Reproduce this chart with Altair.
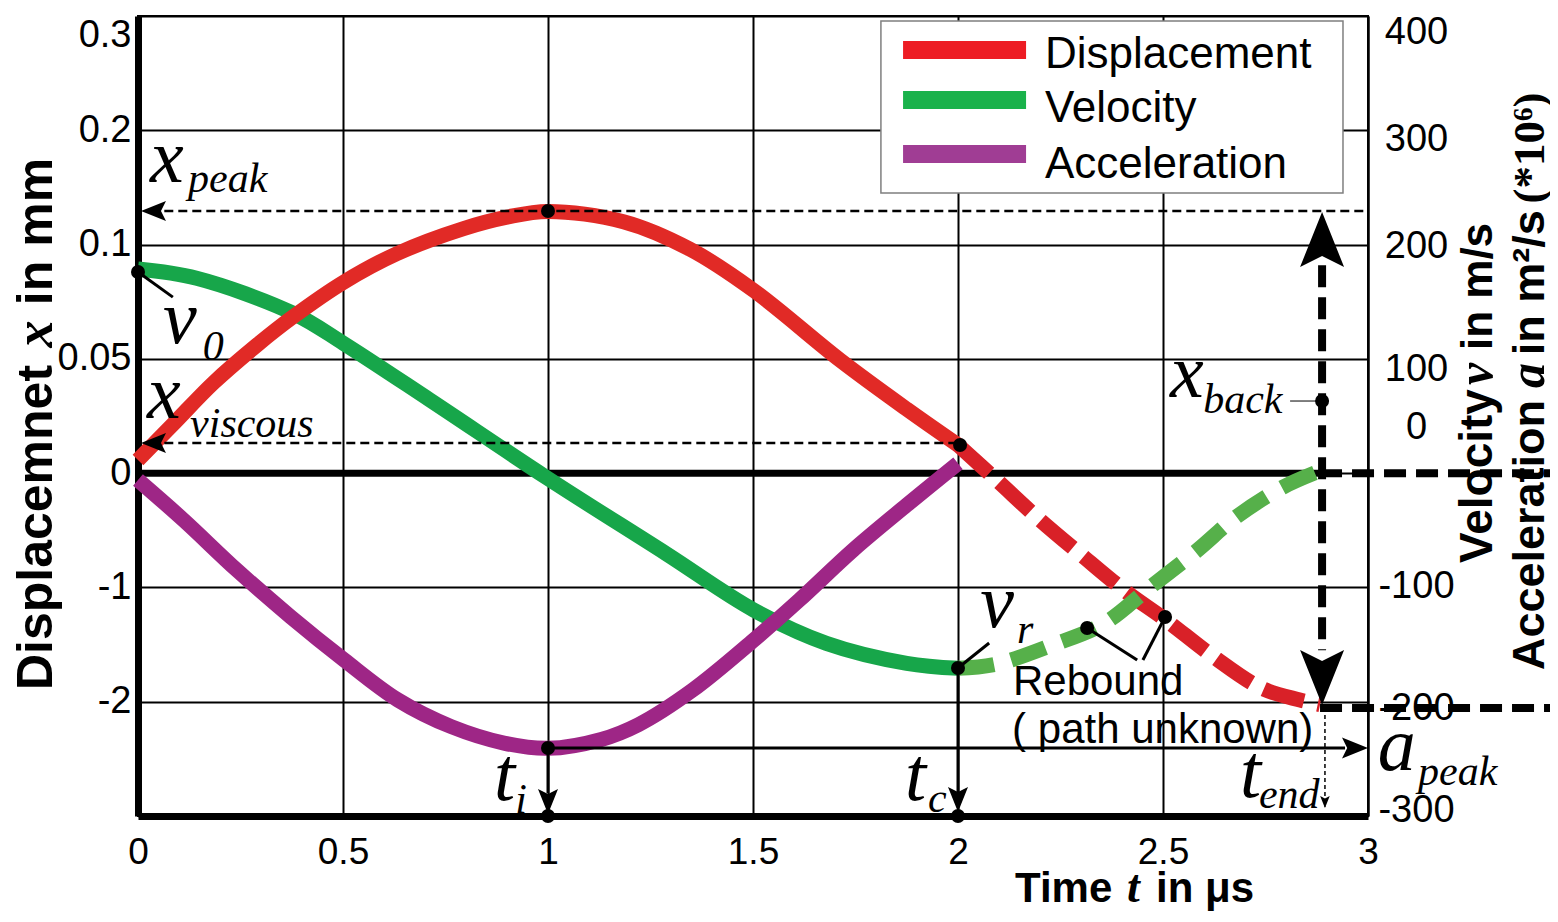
import altair as alt
import pandas as pd

SANS = "Liberation Sans"
SERIF = "Liberation Serif"

# ---------------- data ----------------
# time t in microseconds; y is the chart's vertical grid position (0 = bottom frame, 7 = top frame)
disp_t = [0.0, 0.086, 0.184, 0.29, 0.379, 0.501, 0.631, 0.794, 0.9, 1.0, 1.184, 1.346, 1.501, 1.712, 1.875, 2.0]
disp_y = [3.115, 3.43, 3.79, 4.12, 4.37, 4.67, 4.92, 5.14, 5.24, 5.29, 5.20, 4.96, 4.60, 3.99, 3.56, 3.246]
disp_rb_t = [2.0, 2.094, 2.2, 2.306, 2.411, 2.505, 2.623, 2.741, 2.834, 2.883]
disp_rb_y = [3.246, 2.94, 2.59, 2.269, 1.96, 1.72, 1.394, 1.117, 1.015, 0.975]

vel_t = [0.0, 0.143, 0.379, 0.501, 0.712, 0.997, 1.287, 1.502, 1.679, 1.875, 2.0]
vel_y = [4.786, 4.705, 4.398, 4.136, 3.640, 2.960, 2.298, 1.802, 1.511, 1.336, 1.292]
vel_rb_t = [2.0, 2.094, 2.233, 2.354, 2.468, 2.582, 2.68, 2.794, 2.883]
vel_rb_y = [1.292, 1.33, 1.50, 1.68, 2.0, 2.32, 2.62, 2.88, 3.02]

acc_t = [0.0, 0.111, 0.241, 0.372, 0.503, 0.634, 0.764, 0.895, 1.0, 1.13, 1.221, 1.352, 1.502, 1.613, 1.744, 1.875, 2.0]
acc_y = [2.94, 2.59, 2.152, 1.744, 1.365, 1.015, 0.782, 0.636, 0.592, 0.67, 0.80, 1.10, 1.540, 1.890, 2.327, 2.721, 3.086]

series_names = ["Displacement", "Velocity", "Acceleration"]
series_colors = ["#E12A26", "#17A64A", "#9E2686"]
legend_colors = ["#ED1C24", "#1AB24B", "#A03D94"]
rebound_colors = ["#D92128", "#56B04A"]

x_ticks = [0, 0.5, 1, 1.5, 2, 2.5, 3]
left_tick_pos = [7, 6, 5, 4, 3, 2, 1, 0]
left_tick_lab = ["0.3", "0.2", "0.1", "0.05", "0", "-1", "-2", ""]
right_tick_pos = [6.86, 5.92, 4.98, 3.91, 3.40, 2.01, 0.945, 0.05]
right_tick_lab = ["400", "300", "200", "100", "0", "-100", "-200", "-300"]


def label_expr(pos, lab):
    s = ""
    for p, l in zip(pos, lab):
        s += f"abs(datum.value-({p}))<0.001?'{l}':"
    return s + "''"


X_SCALE = alt.Scale(domain=[0, 3], nice=False, zero=False)
Y_SCALE = alt.Scale(domain=[0, 7], nice=False, zero=False)

# ---------------- axes ----------------
x_axis = alt.Axis(values=x_ticks, format="~g", title=None, grid=True, gridColor="black",
                  gridWidth=2, gridOpacity=1, ticks=False, domain=True, domainColor="black",
                  domainWidth=7, labelFont=SANS, labelFontSize=37, labelColor="black",
                  labelPadding=18, labelFlush=False, labelOverlap=False)
left_axis = alt.Axis(values=left_tick_pos, labelExpr=label_expr(left_tick_pos, left_tick_lab),
                     title=None, grid=True, gridColor="black", gridWidth=2, gridOpacity=1,
                     ticks=False, domain=True, domainColor="black", domainWidth=7,
                     labelFont=SANS, labelFontSize=38, labelColor="black", labelPadding=7,
                     labelFlush=True, labelOverlap=False)
right_axis = alt.Axis(orient="right", values=right_tick_pos,
                      labelExpr=label_expr(right_tick_pos, right_tick_lab), title=None,
                      grid=False, ticks=False, domain=True, domainColor="black", domainWidth=2,
                      labelFont=SANS, labelFontSize=38, labelColor="black", labelAlign="center",
                      labelPadding=48, labelFlush=False, labelOverlap=False)


def xq(f):
    return alt.X(f, type="quantitative", scale=X_SCALE, axis=x_axis)


def yq(f):
    return alt.Y(f, type="quantitative", scale=Y_SCALE, axis=left_axis)


right_axis_layer = alt.Chart(pd.DataFrame({"y": [0.0]})).mark_point(opacity=0).encode(
    y=alt.Y("y:Q", scale=Y_SCALE, axis=right_axis),
)


# ---------------- helpers ----------------
def curve(ts, ys, color, dash=None):
    kw = dict(color=color, strokeWidth=15, strokeCap="butt", interpolate="catmull-rom")
    if dash:
        kw["strokeDash"] = dash
    return alt.Chart(pd.DataFrame({"t": ts, "y": ys})).mark_line(**kw).encode(
        x=xq("t"), y=yq("y"), order="t:Q")


def rules(rows, **style):
    df = pd.DataFrame(rows, columns=["t1", "y1", "t2", "y2"])
    return alt.Chart(df).mark_rule(color="black", **style).encode(
        x=xq("t1"), y=yq("y1"), x2=alt.X2("t2"), y2=alt.Y2("y2"))


def texts(rows, font, style="normal", weight="normal"):
    df = pd.DataFrame(rows, columns=["text", "t", "y", "size", "angle"])
    return alt.Chart(df).mark_text(font=font, fontStyle=style, fontWeight=weight, align="left",
                                   baseline="alphabetic", color="black").encode(
        x=xq("t"), y=yq("y"), text="text:N",
        size=alt.Size("size:Q", scale=None), angle=alt.Angle("angle:Q", scale=None))


# ---------------- legend (drawn box) ----------------
legend_box = alt.Chart(pd.DataFrame({"t1": [1.812], "y1": [6.956], "t2": [2.939], "y2": [5.451]})).mark_rect(
    fill="white", stroke="#7f7f7f", strokeWidth=1.5).encode(
    x=xq("t1"), y=yq("y1"), x2=alt.X2("t2"), y2=alt.Y2("y2"))
legend_lines = alt.Chart(pd.DataFrame({
    "t1": [1.866] * 3, "t2": [2.166] * 3, "y": [6.702, 6.265, 5.792], "c": legend_colors})).mark_rule(
    strokeWidth=18).encode(x=xq("t1"), x2=alt.X2("t2"), y=yq("y"), color=alt.Color("c:N", scale=None))
legend_text = texts([(series_names[0], 2.212, 6.545, 44, 0),
                     (series_names[1], 2.212, 6.072, 44, 0),
                     (series_names[2], 2.212, 5.582, 44, 0)], SANS)

# ---------------- annotation lines ----------------
zero_line = rules([(0.0, 3.0, 2.883, 3.0)], strokeWidth=7)
thin_dashed = rules([(0.03, 5.294, 3.0, 5.294), (0.03, 3.264, 2.0, 3.264)],
                    strokeWidth=2.5, strokeDash=[9, 5])
end_dotted = rules([(2.895, 0.945, 2.895, 0.08)], strokeWidth=1.5, strokeDash=[4, 3])
thick_dashed = rules([(2.883, 3.0, 3.46, 3.0), (2.883, 0.945, 3.46, 0.945),
                      (2.888, 4.82, 2.888, 1.45)], strokeWidth=8, strokeDash=[22, 10])
solid_marks = rules([(1.0, 0.595, 1.0, 0.2), (2.0, 1.295, 2.0, 0.2), (1.0, 0.595, 2.944, 0.595)],
                    strokeWidth=3)
pointers = rules([(0.0, 4.76, 0.085, 4.54), (2.0, 1.295, 2.076, 1.514),
                  (2.315, 1.645, 2.437, 1.365), (2.505, 1.741, 2.451, 1.365)], strokeWidth=3)
back_pointer = rules([(2.81, 3.631, 2.888, 3.631)], strokeWidth=1)

SH_L = "M0,0 L2,-0.8 L1.6,0 L2,0.8 Z"
SH_R = "M0,0 L-2,-0.8 L-1.6,0 L-2,0.8 Z"
SH_U = "M0,0 L-0.8,2 L0,1.6 L0.8,2 Z"
SH_D = "M0,0 L-0.8,-2 L0,-1.6 L0.8,-2 Z"
arrows = alt.Chart(pd.DataFrame({
    "t": [0.0073, 0.0073, 1.0, 2.0, 2.895, 3.0, 2.888, 2.888],
    "y": [5.294, 3.264, 0.0175, 0.035, 0.07, 0.595, 5.285, 0.971],
    "shape": [SH_L, SH_L, SH_D, SH_D, SH_D, SH_R, SH_U, SH_D],
    "size": [625, 625, 625, 625, 144, 676, 3025, 3025],
})).mark_point(filled=True, opacity=1, color="black", strokeWidth=0).encode(
    x=xq("t"), y=yq("y"), shape=alt.Shape("shape:N", scale=None), size=alt.Size("size:Q", scale=None))

dots = alt.Chart(pd.DataFrame({
    "t": [0.0, 1.0, 2.005, 2.0, 1.0, 1.0, 2.0, 2.888, 2.315, 2.505],
    "y": [4.76, 5.294, 3.246, 1.295, 0.595, 0.0, 0.0, 3.631, 1.645, 1.741],
})).mark_point(filled=True, opacity=1, color="black", size=196, shape="circle").encode(
    x=xq("t"), y=yq("y"))

# ---------------- annotation texts ----------------
italic_labels = texts([
    ("x", 0.029, 5.547, 76, 0), ("peak", 0.122, 5.46, 42, 0),
    ("v", 0.061, 4.139, 76, 0), ("0", 0.158, 3.99, 42, 0),
    ("x", 0.022, 3.482, 76, 0), ("viscous", 0.127, 3.316, 42, 0),
    ("t", 0.868, 0.14, 76, 0), ("i", 0.92, 0.026, 42, 0),
    ("t", 1.871, 0.14, 76, 0), ("c", 1.927, 0.035, 42, 0),
    ("t", 2.688, 0.166, 76, 0), ("end", 2.734, 0.07, 42, 0),
    ("a", 3.024, 0.402, 76, 0), ("peak", 3.122, 0.271, 42, 0),
    ("x", 2.517, 3.666, 76, 0), ("back", 2.598, 3.526, 42, 0),
    ("v", 2.054, 1.654, 76, 0), ("r", 2.144, 1.514, 42, 0),
], SERIF, style="italic")
rebound_text = texts([("Rebound", 2.134, 1.059, 42, 0), ("( path unknown)", 2.132, 0.639, 42, 0)], SANS)

title_sans = texts([
    ("Displacemnet", -0.2098, 1.102, 50, 270), ("in mm", -0.2098, 4.47, 50, 270),
    ("Velocity", 3.302, 2.214, 46, 270), ("in m/s", 3.302, 4.077, 44, 270),
    ("Acceleration", 3.43, 1.277, 45, 270), ("in m\u00b2/s", 3.43, 4.032, 45, 270),
    ("Time", 2.139, -0.7525, 42, 0), ("in \u03bcs", 2.483, -0.7525, 42, 0),
], SANS, weight="bold")
title_italic = texts([
    ("x", -0.2098, 4.10, 54, 270), ("v", 3.302, 3.771, 50, 270), ("a", 3.43, 3.744, 50, 270),
    ("t", 2.412, -0.7525, 46, 0),
], SERIF, style="italic", weight="bold")
title_serif = texts([("(*10\u2076)", 3.43, 5.36, 45, 270)], SERIF, weight="bold")

main = alt.layer(
    legend_box, zero_line,
    curve(vel_t, vel_y, series_colors[1]),
    curve(disp_t, disp_y, series_colors[0]),
    curve(disp_rb_t, disp_rb_y, rebound_colors[0], dash=[42, 14]),
    curve(vel_rb_t, vel_rb_y, rebound_colors[1], dash=[36, 18]),
    curve(acc_t, acc_y, series_colors[2]),
    thin_dashed, end_dotted, thick_dashed, solid_marks, pointers, back_pointer,
    arrows, dots, legend_lines, legend_text, italic_labels, rebound_text,
    title_sans, title_italic, title_serif,
)

chart = alt.layer(main, right_axis_layer).resolve_scale(y="independent").properties(
    width=1230, height=800,
    autosize=alt.AutoSizeParams(type="none"),
    padding={"left": 130, "top": 8, "right": 182, "bottom": 96},
).configure_view(stroke="black", strokeWidth=2)

chart.save("out.html", embed_options={"renderer": "svg", "actions": False})
